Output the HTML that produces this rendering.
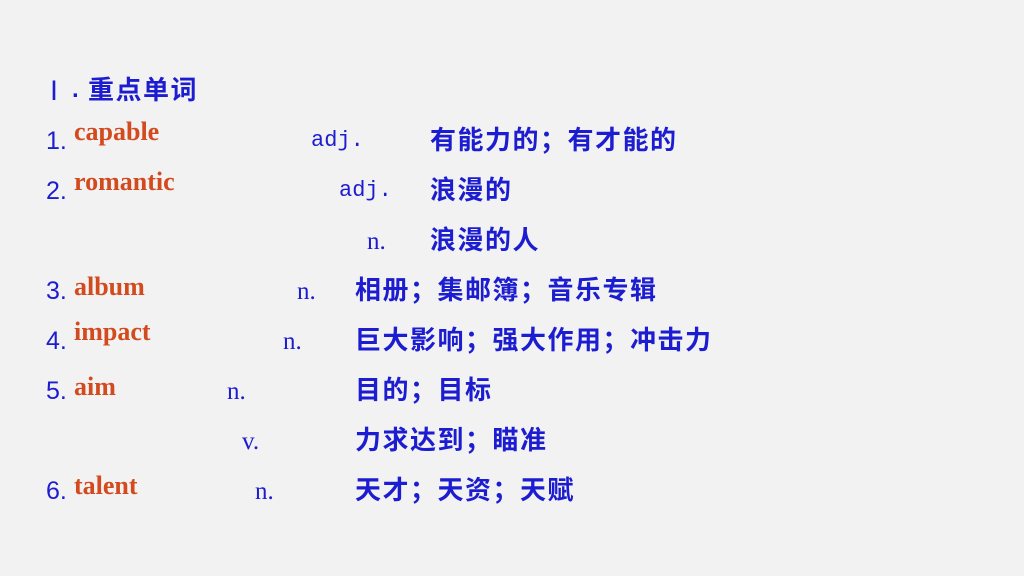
<!DOCTYPE html>
<html><head><meta charset="utf-8"><style>
body{margin:0;width:1024px;height:576px;background:#f2f2f2;position:relative;overflow:hidden}
span{position:absolute;white-space:nowrap;line-height:1}
.b{color:#1c1cd0}
.cn{font-family:"Liberation Sans","Noto Sans CJK SC",sans-serif;font-size:26px;font-weight:bold;letter-spacing:1.5px}
.num{font-family:"Liberation Sans",sans-serif;font-size:25px}
.o{color:#d24a1e;font-family:"Liberation Serif",serif;font-weight:bold;font-size:26px}
.m{font-family:"Liberation Mono",monospace;font-size:22px}
.s{font-family:"Liberation Serif",serif;font-size:25px}
</style></head><body>
<span class="b" style="left:50px;top:78px;font-family:'Liberation Serif',serif;font-size:27px">Ⅰ</span>
<span class="b" style="left:72px;top:78px;font-family:'Liberation Sans',sans-serif;font-size:24px;font-weight:bold">.</span>
<span class="b cn" style="left:88px;top:77px">重点单词</span>

<span class="b num" style="left:46px;top:129px">1.</span>
<span class="o" style="left:74px;top:119px">capable</span>
<span class="b m" style="left:311px;top:130px">adj.</span>
<span class="b cn" style="left:430px;top:127px">有能力的；有才能的</span>

<span class="b num" style="left:46px;top:179px">2.</span>
<span class="o" style="left:74px;top:169px">romantic</span>
<span class="b m" style="left:339px;top:180px">adj.</span>
<span class="b cn" style="left:430px;top:177px">浪漫的</span>

<span class="b s" style="left:367px;top:229px">n.</span>
<span class="b cn" style="left:430px;top:227px">浪漫的人</span>

<span class="b num" style="left:46px;top:279px">3.</span>
<span class="o" style="left:74px;top:274px">album</span>
<span class="b s" style="left:297px;top:279px">n.</span>
<span class="b cn" style="left:355px;top:277px">相册；集邮簿；音乐专辑</span>

<span class="b num" style="left:46px;top:329px">4.</span>
<span class="o" style="left:74px;top:319px">impact</span>
<span class="b s" style="left:283px;top:329px">n.</span>
<span class="b cn" style="left:355px;top:327px">巨大影响；强大作用；冲击力</span>

<span class="b num" style="left:46px;top:379px">5.</span>
<span class="o" style="left:74px;top:374px">aim</span>
<span class="b s" style="left:227px;top:379px">n.</span>
<span class="b cn" style="left:355px;top:377px">目的；目标</span>

<span class="b s" style="left:242px;top:429px">v.</span>
<span class="b cn" style="left:355px;top:427px">力求达到；瞄准</span>

<span class="b num" style="left:46px;top:479px">6.</span>
<span class="o" style="left:74px;top:473px">talent</span>
<span class="b s" style="left:255px;top:479px">n.</span>
<span class="b cn" style="left:355px;top:477px">天才；天资；天赋</span>
</body></html>
